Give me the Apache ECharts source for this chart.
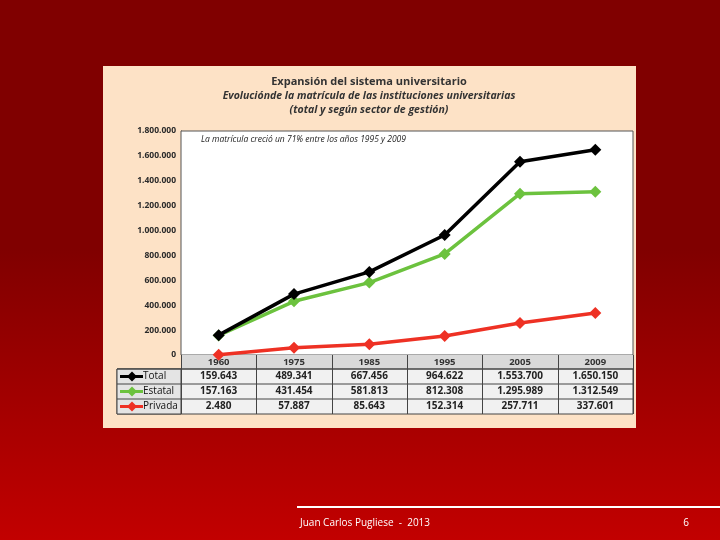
<!DOCTYPE html>
<html>
<head>
<meta charset="utf-8">
<script src="https://cdn.jsdelivr.net/npm/echarts@6/dist/echarts.min.js"></script>
<style>
html,body{margin:0;padding:0;}
#chart{width:720px;height:540px;}
</style>
</head>
<body>
<div id="chart"></div>
<script>
// ---- Data ----
var years = ['1960', '1975', '1985', '1995', '2005', '2009'];
var totalValues = [159643, 489341, 667456, 964622, 1553700, 1650150];
var estatalValues = [157163, 431454, 581813, 812308, 1295989, 1312549];
var privadaValues = [2480, 57887, 85643, 152314, 257711, 337601];
var seriesNames = ['Total', 'Estatal', 'Privada'];
var yTicks = [0, 200000, 400000, 600000, 800000, 1000000, 1200000, 1400000, 1600000, 1800000];
var titleLines = ['Expansión del sistema universitario',
  'Evoluciónde la matrícula de las instituciones universitarias',
  '(total y según sector de gestión)'];
var noteText = 'La matrícula creció un 71% entre los años 1995 y 2009';
var footerText = 'Juan Carlos Pugliese  -  2013';
var pageNumber = '6';

var colors = ['#000000', '#6cc23e', '#ee3124'];
var seriesData = [totalValues, estatalValues, privadaValues];

function fmt(n) {
  return String(n).replace(/\B(?=(\d{3})+(?!\d))/g, '.');
}

var chart = echarts.init(document.getElementById('chart'));
var FONT = '"Open Sans", "Liberation Sans", sans-serif';

var option = {
  animation: false,
  backgroundColor: {
    type: 'linear', x: 0, y: 0, x2: 0, y2: 1,
    colorStops: [
      {offset: 0, color: '#800000'},
      {offset: 0.46, color: '#800000'},
      {offset: 1, color: '#c20000'}
    ]
  },
  grid: {
    left: 181, right: 87, top: 131, bottom: 185,
    show: true, backgroundColor: '#ffffff', borderColor: '#555555', borderWidth: 1,
    z: 1
  },
  xAxis: {
    type: 'category', data: years, boundaryGap: true,
    axisLine: {show: false}, axisTick: {show: false}, axisLabel: {show: false},
    splitLine: {show: false}
  },
  yAxis: {
    type: 'value', min: yTicks[0], max: yTicks[yTicks.length - 1], interval: yTicks[1] - yTicks[0],
    axisLine: {show: true, lineStyle: {color: '#333', width: 1}},
    axisTick: {show: false},
    axisLabel: {
      formatter: function (v) { return fmt(v); },
      fontFamily: FONT, fontSize: 8.5, fontWeight: 'bold', color: '#2a2a2a', margin: 5
    },
    splitLine: {show: true, lineStyle: {color: '#3a3a3a', width: 1}}
  },
  series: seriesNames.map(function (name, i) {
    return {
      name: name, type: 'line', data: seriesData[i],
      symbol: 'diamond', symbolSize: 12, z: 10 - i,
      itemStyle: {color: colors[i]},
      lineStyle: {color: colors[i], width: 3.5}
    };
  })
};
chart.setOption(option);

// ---- Build table / text overlays ----
var g = [];
// panel
g.push({type: 'rect', z: -10, shape: {x: 103, y: 66, width: 533, height: 362}, style: {fill: '#fde2c6'}});
// titles
var titleY = [82, 96, 110];
titleLines.forEach(function (t, i) {
  g.push({type: 'text', z: 20, x: 369, y: titleY[i], style: {
    text: t, fontFamily: FONT, fontSize: i === 0 ? 11 : 10.5, fontWeight: 'bold',
    fontStyle: i === 0 ? 'normal' : 'italic', fill: '#333', align: 'center', verticalAlign: 'middle'}});
});
// note
g.push({type: 'text', z: 20, x: 201, y: 140, style: {text: noteText, fontFamily: FONT, fontSize: 8.5,
  fontStyle: 'italic', fill: '#222', align: 'left', verticalAlign: 'middle'}});

var gridLeft = 181, gridRight = 633;
var colW = (gridRight - gridLeft) / years.length;
var headTop = 355, rowH = 15;
var labelLeft = 117;
var tableBottom = headTop + rowH * 4 - 1;

// header row background
g.push({type: 'rect', z: 5, shape: {x: gridLeft, y: headTop, width: gridRight - gridLeft, height: 14},
  style: {fill: '#d9d9d9'}});
// body background
g.push({type: 'rect', z: 5, shape: {x: labelLeft, y: headTop + 14, width: gridRight - labelLeft, height: tableBottom - headTop - 14},
  style: {fill: '#f1f1f1', stroke: '#444', lineWidth: 1}});
// label column
g.push({type: 'rect', z: 5, shape: {x: labelLeft, y: headTop + 14, width: gridLeft - labelLeft, height: tableBottom - headTop - 14},
  style: {fill: '#e4e4e4', stroke: '#444', lineWidth: 1}});
// horizontal lines
for (var r = 0; r < 3; r++) {
  var yy = headTop + 14 + r * rowH;
  g.push({type: 'line', z: 6, shape: {x1: labelLeft, y1: yy, x2: gridRight, y2: yy}, style: {stroke: '#444', lineWidth: 1}});
}
// vertical lines
for (var c = 0; c <= years.length; c++) {
  var xx = Math.round(gridLeft + c * colW) + 0.5;
  g.push({type: 'line', z: 6, shape: {x1: xx, y1: headTop, x2: xx, y2: tableBottom}, style: {stroke: '#444', lineWidth: 1}});
}
// header years
years.forEach(function (y, i) {
  var cx = chart.convertToPixel({xAxisIndex: 0}, i);
  g.push({type: 'text', z: 7, x: cx, y: headTop + 7.5, style: {text: y, fontFamily: FONT, fontSize: 9.5,
    fontWeight: 'bold', fill: '#333', align: 'center', verticalAlign: 'middle'}});
});
// rows
seriesNames.forEach(function (name, r) {
  var cy = headTop + 14 + r * rowH + rowH / 2;
  g.push({type: 'line', z: 7, shape: {x1: 120, y1: cy, x2: 143, y2: cy}, style: {stroke: colors[r], lineWidth: 3}});
  g.push({type: 'polygon', z: 7, shape: {points: [[132, cy - 5], [137, cy], [132, cy + 5], [127, cy]]}, style: {fill: colors[r]}});
  g.push({type: 'text', z: 7, x: 143, y: cy, style: {text: name, fontFamily: FONT, fontSize: 10,
    fontWeight: 'normal', fill: '#111', align: 'left', verticalAlign: 'middle'}});
  seriesData[r].forEach(function (v, i) {
    var cx = chart.convertToPixel({xAxisIndex: 0}, i);
    g.push({type: 'text', z: 7, x: cx, y: cy, style: {text: fmt(v), fontFamily: FONT, fontSize: 10,
      fontWeight: 'bold', fill: '#222', align: 'center', verticalAlign: 'middle'}});
  });
});
// footer
g.push({type: 'line', z: 5, shape: {x1: 297, y1: 507, x2: 720, y2: 507}, style: {stroke: '#ffffff', lineWidth: 2}});
g.push({type: 'text', z: 5, x: 300, y: 523, style: {text: footerText, fontFamily: FONT, fontSize: 10,
  fill: '#ffffff', align: 'left', verticalAlign: 'middle'}});
g.push({type: 'text', z: 5, x: 686, y: 523, style: {text: pageNumber, fontFamily: FONT, fontSize: 10,
  fill: '#ffffff', align: 'center', verticalAlign: 'middle'}});

chart.setOption({graphic: {elements: g}});
</script>
</body>
</html>
